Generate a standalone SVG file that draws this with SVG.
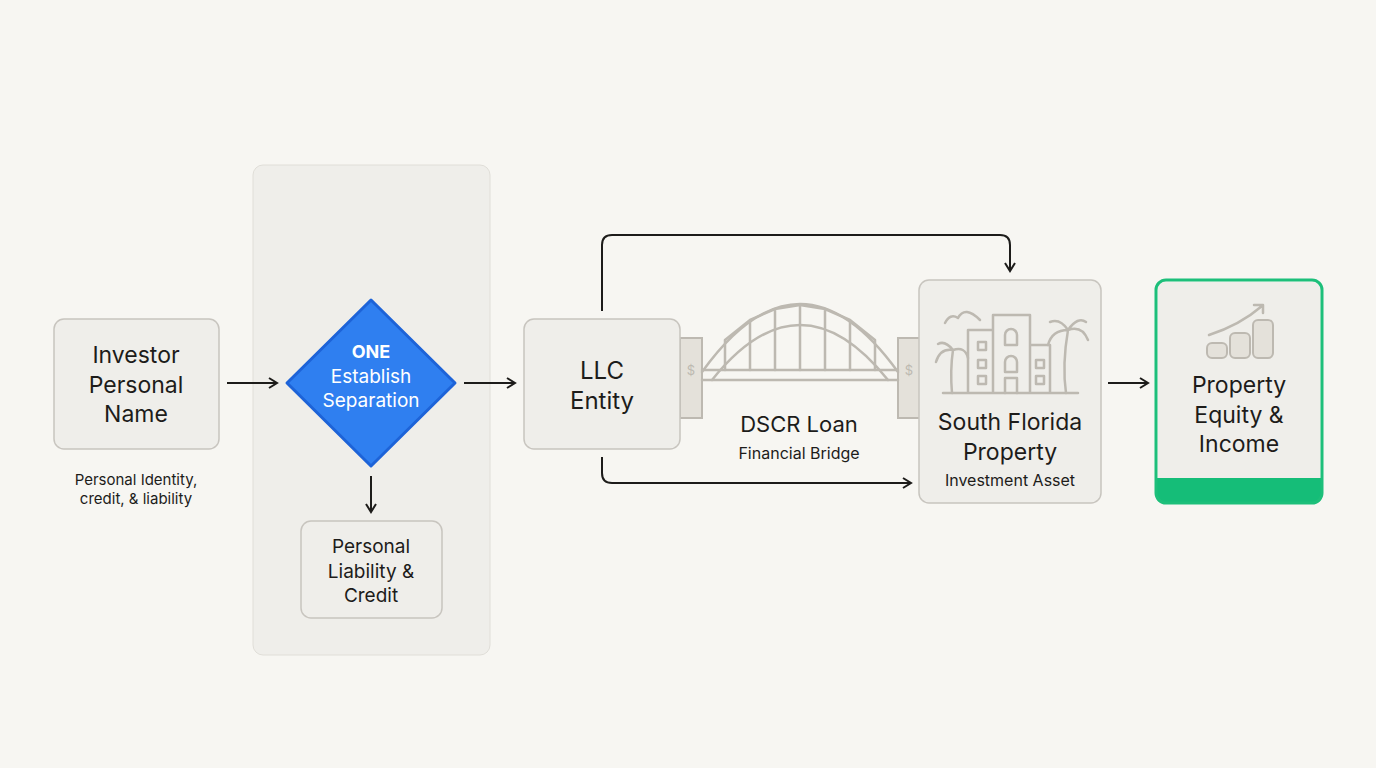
<svg xmlns="http://www.w3.org/2000/svg" width="1376" height="768" viewBox="0 0 1376 768">
<defs>
<style>
.t{font-family:"Inter","Liberation Sans",sans-serif;fill:#1d1c1a;text-anchor:middle}
.box{fill:#efeeea;stroke:#c8c5bf;stroke-width:1.5}
.con{fill:none;stroke:#1d1c1a;stroke-width:2}
.ill{fill:none;stroke:#bdb9b1;stroke-width:2.5;stroke-linecap:round;stroke-linejoin:round}
.illf{fill:#e4e1da;stroke:#bdb9b1;stroke-width:2}
</style>
<marker id="ah" viewBox="0 0 12 12" refX="10" refY="6" markerWidth="12" markerHeight="12" markerUnits="userSpaceOnUse" orient="auto"><path d="M2,1 L10,6 L2,11" fill="none" stroke="#1d1c1a" stroke-width="2"/></marker>
</defs>
<rect width="1376" height="768" fill="#f7f6f2"/>
<rect x="253" y="165" width="237" height="490" rx="10" fill="#efeeea" stroke="#e0ded8"/>

<g id="bridge">
<rect x="680" y="338" width="22" height="80" class="illf"/>
<rect x="898" y="338" width="22" height="80" class="illf"/>
<path class="ill" d="M702,372 Q800,236 898,372 M712,380 Q800,270 888,380"/>
<path class="ill" d="M702,370 L898,370 M702,380 L898,380"/>
<path class="ill" d="M725,340 L725,370 M750,320 L750,370 M775,309 L775,370 M800,305 L800,370 M825,309 L825,370 M850,320 L850,370 M875,340 L875,370 M725,340 L750,320 L775,309 L800,305 L825,309 L850,320 L875,340"/>
<text x="691" y="375" class="t" style="font-size:13px;fill:#bdb9b1">$</text>
<text x="909" y="375" class="t" style="font-size:13px;fill:#bdb9b1">$</text>
</g>

<g id="connectors">
<path class="con" d="M227,383 H277" marker-end="url(#ah)"/>
<path class="con" d="M371,476 V512" marker-end="url(#ah)"/>
<path class="con" d="M464,383 H515" marker-end="url(#ah)"/>
<path class="con" d="M602,311 V245 Q602,235 612,235 H1000 Q1010,235 1010,245 V271" marker-end="url(#ah)"/>
<path class="con" d="M602,457 V473 Q602,483 612,483 H911" marker-end="url(#ah)"/>
<path class="con" d="M1108,383 H1148" marker-end="url(#ah)"/>
</g>

<g id="investor">
<rect x="54" y="319" width="165" height="130" rx="10" class="box"/>
<text x="136" y="363" class="t" style="font-size:23px">Investor</text>
<text x="136" y="393" class="t" style="font-size:23px">Personal</text>
<text x="136" y="422" class="t" style="font-size:23px">Name</text>
<text x="136" y="485" class="t" style="font-size:15px">Personal Identity,</text>
<text x="136" y="504" class="t" style="font-size:15px">credit, &amp; liability</text>
</g>

<g id="separation">
<path d="M371,300 L455,383 L371,466 L287,383 Z" fill="#2f7ff0" stroke="#1d63d8" stroke-width="3" stroke-linejoin="round"/>
<text x="371" y="358" class="t" style="font-size:18px;font-weight:bold;fill:#fff">ONE</text>
<text x="371" y="383" class="t" style="font-size:19px;fill:#fff">Establish</text>
<text x="371" y="407" class="t" style="font-size:19px;fill:#fff">Separation</text>
</g>

<g id="liability">
<rect x="301" y="521" width="141" height="97" rx="10" class="box"/>
<text x="371" y="553" class="t" style="font-size:19px">Personal</text>
<text x="371" y="578" class="t" style="font-size:19px">Liability &amp;</text>
<text x="371" y="602" class="t" style="font-size:19px">Credit</text>
</g>

<g id="llc">
<rect x="524" y="319" width="156" height="130" rx="10" class="box"/>
<text x="602" y="379" class="t" style="font-size:24px">LLC</text>
<text x="602" y="409" class="t" style="font-size:24px">Entity</text>
</g>

<g id="loan">
<text x="799" y="432" class="t" style="font-size:22px">DSCR Loan</text>
<text x="799" y="459" class="t" style="font-size:16px">Financial Bridge</text>
</g>

<g id="property">
<rect x="919" y="280" width="182" height="223" rx="10" class="box"/>
<path class="ill" d="M945,323 Q950,313 958,318 Q965,305 980,320"/>
<path class="ill" d="M943,393 H1078 M968,393 V330 H993 V393 M993,330 V315 H1030 V393 M1030,345 H1050 V393"/>
<path class="ill" d="M978,342 h8 v8 h-8z M978,360 h8 v8 h-8z M978,376 h8 v8 h-8z M1036,360 h8 v8 h-8z M1036,376 h8 v8 h-8z M1005,345 v-10 a6,6 0 0 1 12,0 v10z M1005,372 v-10 a6,6 0 0 1 12,0 v10z M1005,393 v-15 h12 v15"/>
<path class="ill" d="M952,393 Q950,370 953,350 M953,350 Q940,348 936,362 M953,350 Q965,346 968,358 M953,350 Q945,340 938,344"/>
<path class="ill" d="M1066,393 Q1062,365 1068,330 M1068,330 Q1052,330 1048,345 M1068,330 Q1082,325 1088,340 M1068,330 Q1060,318 1050,322 M1068,330 Q1078,316 1086,322"/>
<text x="1010" y="430" class="t" style="font-size:23px">South Florida</text>
<text x="1010" y="460" class="t" style="font-size:23px">Property</text>
<text x="1010" y="486" class="t" style="font-size:16px">Investment Asset</text>
</g>

<g id="equity">
<path d="M1156,478 H1322 V495 Q1322,503 1314,503 H1164 Q1156,503 1156,495 Z" fill="#15bd78"/>
<path d="M1158,290 Q1158,282 1166,282 H1312 Q1320,282 1320,290 V478 H1158 Z" fill="#efeeea"/>
<rect x="1156" y="280" width="166" height="223" rx="10" fill="none" stroke="#1dbf7a" stroke-width="3"/>
<path class="ill" d="M1209,335 Q1240,325 1262,306 M1254,305 h9 v8"/>
<g class="illf">
<rect x="1207" y="343" width="20" height="15" rx="5"/>
<rect x="1230" y="333" width="20" height="25" rx="5"/>
<rect x="1253" y="320" width="20" height="38" rx="5"/>
</g>
<text x="1239" y="393" class="t" style="font-size:23px">Property</text>
<text x="1239" y="423" class="t" style="font-size:23px">Equity &amp;</text>
<text x="1239" y="452" class="t" style="font-size:23px">Income</text>
</g>
</svg>
